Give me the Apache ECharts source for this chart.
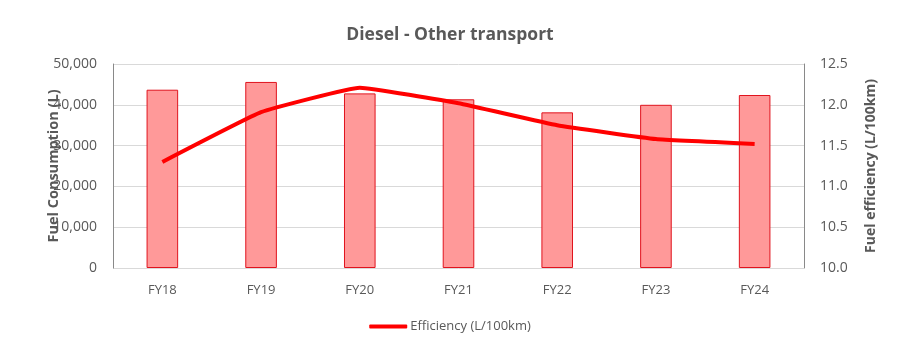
<!DOCTYPE html>
<html>
<head>
<meta charset="utf-8">
<script src="https://cdn.jsdelivr.net/npm/echarts@6/dist/echarts.min.js"></script>
<style>
  html, body { margin: 0; padding: 0; background: #fff; }
  #chart { width: 900px; height: 354px; }
</style>
</head>
<body>
<div id="chart"></div>
<script>
const categories = ["FY18", "FY19", "FY20", "FY21", "FY22", "FY23", "FY24"];
const fuelConsumption = [43700, 45600, 42800, 41350, 38150, 40000, 42400];
const efficiency = [11.30, 11.91, 12.21, 12.02, 11.75, 11.58, 11.52];

const textGrey = "#595959";
const font = "'Open Sans', sans-serif";

const chart = echarts.init(document.getElementById("chart"));

chart.setOption({
  animation: false,
  title: {
    text: "Diesel - Other transport",
    left: "center",
    top: 21,
    textStyle: { fontFamily: font, fontSize: 17.5, fontWeight: "bold", color: textGrey },
  },
  grid: { left: 113, right: 96, top: 64, bottom: 86 },
  legend: {
    bottom: 16,
    left: "center",
    data: [{ name: "Efficiency (L/100km)", icon: "roundRect" }],
    itemWidth: 38,
    itemHeight: 4,
    itemGap: 4,
    textStyle: { fontFamily: font, fontSize: 13, color: textGrey, padding: [0, 0, 0, -2] },
  },
  xAxis: {
    type: "category",
    data: categories,
    axisLine: { show: false },
    axisTick: { show: false },
    axisLabel: { fontFamily: font, fontSize: 13, color: textGrey, margin: 16 },
  },
  yAxis: [
    {
      type: "value",
      min: 0,
      max: 50000,
      interval: 10000,
      name: "Fuel Consumption (L)",
      nameLocation: "middle",
      nameGap: 52,
      nameMoveOverlap: false,
      nameTextStyle: { fontFamily: font, fontSize: 14.5, fontWeight: "bold", color: textGrey },
      axisLine: { show: true, lineStyle: { color: "#898989" } },
      axisTick: { show: false },
      axisLabel: {
        fontFamily: font,
        fontSize: 14,
        color: textGrey,
        margin: 16,
        formatter: (v) => v.toLocaleString("en-US"),
      },
      splitLine: { lineStyle: { color: "#d9d9d9" } },
    },
    {
      type: "value",
      min: 10,
      max: 12.5,
      interval: 0.5,
      name: "Fuel efficiency (L/100km)",
      nameLocation: "middle",
      nameGap: 60,
      nameTextStyle: { fontFamily: font, fontSize: 14, fontWeight: "bold", color: textGrey },
      axisLine: { show: true, lineStyle: { color: "#898989" } },
      axisTick: { show: false },
      axisLabel: {
        fontFamily: font,
        fontSize: 14,
        color: textGrey,
        margin: 16,
        formatter: (v) => v.toFixed(1),
      },
      splitLine: { show: false },
    },
  ],
  series: [
    {
      name: "Fuel Consumption (L)",
      type: "bar",
      data: fuelConsumption,
      barWidth: "32%",
      itemStyle: { color: "#ff9999", borderColor: "#e0141e", borderWidth: 1 },
    },
    {
      name: "Efficiency (L/100km)",
      type: "line",
      yAxisIndex: 1,
      data: efficiency,
      smooth: 0.1,
      showSymbol: false,
      lineStyle: { color: "#ff0000", width: 4 },
      itemStyle: { color: "#ff0000" },
    },
  ],
});
</script>
</body>
</html>
